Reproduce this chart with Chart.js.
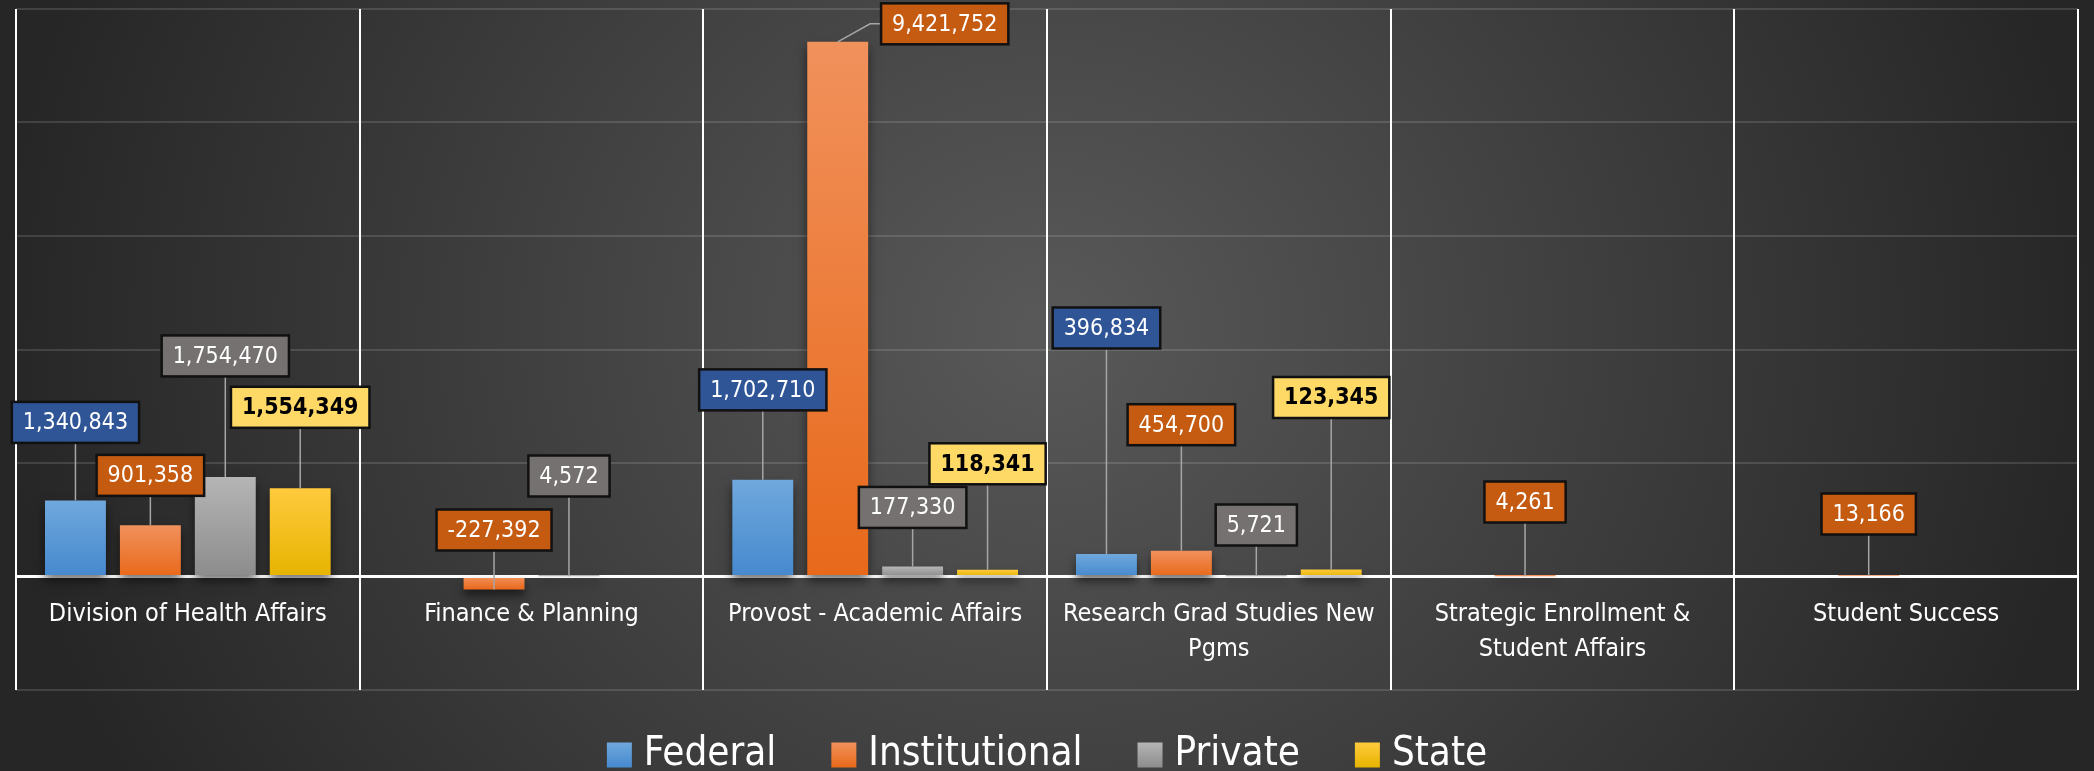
<!DOCTYPE html>
<html>
<head>
<meta charset="utf-8">
<script src="https://cdn.jsdelivr.net/npm/chart.js@4.4.1/dist/chart.umd.min.js"></script>
<style>
html, body { margin: 0; padding: 0; }
body {
    width: 2094px; height: 771px; overflow: hidden;
    background: radial-gradient(ellipse 1050px 950px at 1047px 330px, #595959 0%, #262626 100%);
}
</style>
</head>
<body>
<canvas id="myChart" width="2094" height="771"></canvas>
<script>
const categories = [
    'Division of Health Affairs',
    'Finance & Planning',
    'Provost - Academic Affairs',
    ['Research Grad Studies New', 'Pgms'],
    ['Strategic Enrollment &', 'Student Affairs'],
    'Student Success'
];
const federal = [1340843, null, 1702710, 396834, null, null];
const institutional = [901358, -227392, 9421752, 454700, 4261, 13166];
const privateFunds = [1754470, 4572, 177330, 5721, null, null];
const state = [1554349, null, 118341, 123345, null, null];
const yTicks = [-2000000, 0, 2000000, 4000000, 6000000, 8000000, 10000000];

// callouts were hand placed in the original: how far above the bar each one sits (px)
const liftFederal = [78, 0, 90, 226, 0, 0];
const liftInstitutional = [50, 48, 18, 126, 73, 61];
const liftPrivate = [121, 99, 59, 50, 0, 0];
const liftState = [81, 0, 106, 172, 0, 0];
const shiftInstitutional = [0, 0, 107, 0, 0, 0];
const noShift = [0, 0, 0, 0, 0, 0];

const FONT = '"Liberation Sans Narrow", "DejaVu Sans Condensed", "Liberation Sans", sans-serif';

function barFill(top, bottom) {
    return function (c) {
        const chart = c.chart;
        if (!chart.chartArea || c.type !== 'data' || c.raw == null) {
            return bottom;
        }
        const ys = chart.scales.y;
        const y0 = ys.getPixelForValue(0);
        const y1 = ys.getPixelForValue(c.raw);
        if (Math.abs(y1 - y0) < 1) {
            return top;
        }
        const g = chart.ctx.createLinearGradient(0, Math.min(y0, y1), 0, Math.max(y0, y1));
        g.addColorStop(0, top);
        g.addColorStop(1, bottom);
        return g;
    };
}

function makeSeries(name, values, top, bottom, labelBg, labelColor, bold, lift, shift) {
    return {
        label: name,
        data: values,
        backgroundColor: barFill(top, bottom),
        borderWidth: 0,
        colorTop: top,
        colorBottom: bottom,
        labelBg: labelBg,
        labelColor: labelColor,
        labelBold: bold,
        labelLift: lift,
        labelShift: shift
    };
}

const barShadow = {
    id: 'barShadow',
    beforeDatasetsDraw(chart) {
        const ctx = chart.ctx;
        ctx.save();
        ctx.shadowColor = 'rgba(0,0,0,0.55)';
        ctx.shadowBlur = 10;
        ctx.shadowOffsetY = 6;
    },
    afterDatasetsDraw(chart) {
        chart.ctx.restore();
    }
};

const callouts = {
    id: 'callouts',
    afterDraw(chart) {
        const ctx = chart.ctx;
        ctx.save();
        chart.data.datasets.forEach((ds, di) => {
            const meta = chart.getDatasetMeta(di);
            ds.data.forEach((v, i) => {
                if (v == null) return;
                const bar = meta.data[i];
                const text = v.toLocaleString('en-US');
                ctx.font = (ds.labelBold ? 'bold ' : '') + '23px ' + FONT;
                const w = ctx.measureText(text).width + 22;
                const h = 41;
                const topEdge = Math.min(bar.y, bar.base);
                const cx = bar.x + ds.labelShift[i];
                const cy = topEdge - ds.labelLift[i];
                const left = cx - w / 2;

                ctx.strokeStyle = '#a6a6a6';
                ctx.lineWidth = 1.5;
                ctx.beginPath();
                if (ds.labelShift[i]) {
                    ctx.moveTo(bar.x, bar.y);
                    ctx.lineTo(left - 11, cy);
                    ctx.lineTo(left, cy);
                } else {
                    ctx.moveTo(cx, cy + h / 2);
                    ctx.lineTo(cx, bar.y);
                }
                ctx.stroke();

                ctx.fillStyle = ds.labelBg;
                ctx.fillRect(left, cy - h / 2, w, h);
                ctx.strokeStyle = '#111111';
                ctx.lineWidth = 2.5;
                ctx.strokeRect(left, cy - h / 2, w, h);

                ctx.fillStyle = ds.labelColor;
                ctx.textAlign = 'center';
                ctx.textBaseline = 'middle';
                ctx.fillText(text, cx, cy + 1);
            });
        });
        ctx.restore();
    }
};

const legendRow = {
    id: 'legendRow',
    afterDraw(chart) {
        const ctx = chart.ctx;
        ctx.save();
        ctx.font = '40px ' + FONT;
        const box = 25, gapText = 12, gapItem = 55, cy = 755;
        const items = chart.data.datasets.map(ds => ({
            ds: ds,
            w: ctx.measureText(ds.label).width
        }));
        const total = items.reduce((s, it) => s + box + gapText + it.w, 0) + gapItem * (items.length - 1);
        let x = (chart.width - total) / 2;
        items.forEach(it => {
            const g = ctx.createLinearGradient(0, cy - box / 2, 0, cy + box / 2);
            g.addColorStop(0, it.ds.colorTop);
            g.addColorStop(1, it.ds.colorBottom);
            ctx.fillStyle = g;
            ctx.fillRect(x, cy - box / 2, box, box);
            ctx.fillStyle = '#ffffff';
            ctx.textAlign = 'left';
            ctx.textBaseline = 'middle';
            ctx.fillText(it.ds.label, x + box + gapText, cy);
            x += box + gapText + it.w + gapItem;
        });
        ctx.restore();
    }
};

const ctx = document.getElementById('myChart').getContext('2d');
const myChart = new Chart(ctx, {
    type: 'bar',
    data: {
        labels: categories,
        datasets: [
            makeSeries('Federal', federal, '#6fa8dc', '#4689cf', '#2f5597', '#ffffff', false, liftFederal, noShift),
            makeSeries('Institutional', institutional, '#f1915c', '#e8691a', '#c55a11', '#ffffff', false, liftInstitutional, shiftInstitutional),
            makeSeries('Private', privateFunds, '#b5b5b5', '#8c8c8c', '#767171', '#ffffff', false, liftPrivate, noShift),
            makeSeries('State', state, '#ffca3d', '#e6b400', '#ffd966', '#000000', true, liftState, noShift)
        ]
    },
    options: {
        responsive: false,
        animation: false,
        devicePixelRatio: 1,
        layout: {
            padding: { left: 16, right: 16, top: 9, bottom: 81 }
        },
        datasets: {
            bar: { categoryPercentage: 0.872, barPercentage: 0.813 }
        },
        plugins: {
            legend: { display: false },
            tooltip: { enabled: false }
        },
        scales: {
            x: {
                position: { y: 0 },
                grid: { color: '#ffffff', lineWidth: 2, drawTicks: false, offset: true },
                border: { color: '#ffffff', width: 3 },
                ticks: {
                    color: '#ffffff',
                    font: { family: FONT, size: 25, lineHeight: 1.4 },
                    padding: 20,
                    maxRotation: 0,
                    autoSkip: false
                }
            },
            y: {
                min: -2000000,
                max: 10000000,
                afterBuildTicks: (axis) => {
                    axis.ticks = yTicks.map(v => ({ value: v }));
                },
                ticks: { display: false },
                grid: {
                    color: c => c.tick && c.tick.value === 0 ? '#ffffff' : 'rgba(255,255,255,0.13)',
                    lineWidth: c => c.tick && c.tick.value === 0 ? 3 : 2,
                    drawTicks: false
                },
                border: { display: false }
            }
        }
    },
    plugins: [barShadow, callouts, legendRow]
});
</script>
</body>
</html>
